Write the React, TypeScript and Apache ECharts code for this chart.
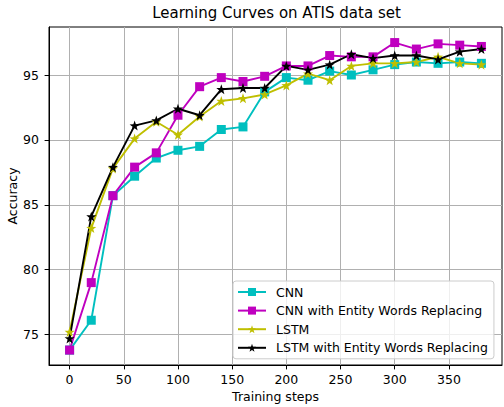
import React, { useEffect, useRef } from "react";
import * as echarts from "echarts";

const steps = [0, 20, 40, 60, 80, 100, 120, 140, 160, 180, 200, 220, 240, 260, 280, 300, 320, 340, 360, 380];
const cnn = [73.8, 76.1, 85.7, 87.2, 88.6, 89.2, 89.5, 90.8, 91.0, 93.7, 94.8, 94.6, 95.3, 95.0, 95.4, 95.8, 96.0, 95.9, 96.0, 95.9];
const cnnEntity = [73.8, 79.0, 85.7, 87.9, 89.0, 91.9, 94.1, 94.8, 94.5, 94.9, 95.7, 95.7, 96.5, 96.4, 96.4, 97.5, 97.0, 97.4, 97.3, 97.2];
const lstm = [75.2, 83.2, 87.8, 90.1, 91.4, 90.4, 91.8, 93.0, 93.2, 93.5, 94.2, 95.1, 94.6, 95.7, 95.9, 95.9, 96.0, 96.4, 95.9, 95.8];
const lstmEntity = [74.7, 84.1, 87.9, 91.1, 91.5, 92.4, 91.9, 93.9, 94.0, 94.0, 95.7, 95.4, 95.8, 96.6, 96.3, 96.5, 96.5, 96.2, 96.8, 97.0];
const xTicks = [0, 50, 100, 150, 200, 250, 300, 350];
const yTicks = [75, 80, 85, 90, 95];
const seriesNames = ["CNN", "CNN with Entity Words Replacing", "LSTM", "LSTM with Entity Words Replacing"];
const seriesColors = ["#00bfbf", "#bf00bf", "#bfbf00", "#000000"];

const STAR = "path://M0,-10 L2.35,-3.24 9.51,-3.09 3.8,1.24 5.88,8.09 0,4 -5.88,8.09 -3.8,1.24 -9.51,-3.09 -2.35,-3.24Z";

export default function App() {
  const ref = useRef<HTMLDivElement>(null);
  useEffect(() => {
    const chart = echarts.init(ref.current!, null, { renderer: "svg" });
    const font = "DejaVu Sans";
    const fs = 12.5;
    const allData = [cnn, cnnEntity, lstm, lstmEntity];
    const symbols = ["rect", "rect", STAR, STAR];
    const sizes = [9, 9, 10, 10];
    chart.setOption({
      animation: false,
      backgroundColor: "#ffffff",
      title: {
        text: "Learning Curves on ATIS data set",
        left: 276.5,
        textAlign: "center",
        top: 5,
        padding: 0,
        textStyle: { fontFamily: font, fontSize: 15, fontWeight: "normal", color: "#000" },
      },
      grid: {
        left: 49,
        right: 2,
        top: 27,
        bottom: 42,
        outerBoundsMode: "none",
        containLabel: false,
        show: true,
        borderColor: "#000",
        borderWidth: 1,
        backgroundColor: "transparent",
      },
      legend: {
        orient: "vertical",
        left: 233,
        top: 281,
        data: seriesNames,
        itemWidth: 28,
        itemHeight: 10,
        itemGap: 4.6,
        padding: [4, 6, 4, 4],
        backgroundColor: "rgba(255,255,255,0.8)",
        borderColor: "#cccccc",
        borderWidth: 1,
        borderRadius: 3,
        textStyle: { fontFamily: font, fontSize: fs, color: "#000", lineHeight: 14, padding: [0, 0, 0, 5] },
      },
      xAxis: {
        type: "value",
        min: -19,
        max: 399,
        name: "Training steps",
        nameLocation: "middle",
        nameGap: 25,
        nameMoveOverlap: false,
        nameTextStyle: { fontFamily: font, fontSize: fs, color: "#000" },
        axisLine: { show: true, onZero: false, lineStyle: { color: "#000", width: 1 } },
        axisTick: { show: true, length: 4.4, lineStyle: { color: "#000" }, customValues: xTicks },
        axisLabel: { fontFamily: font, fontSize: fs, color: "#000", margin: 8, customValues: xTicks },
        splitLine: { show: true, lineStyle: { color: "#b0b0b0", width: 1 } },
      },
      yAxis: {
        type: "value",
        min: 72.65,
        max: 98.7,
        name: "Accuracy",
        nameLocation: "middle",
        nameGap: 30,
        nameMoveOverlap: false,
        nameTextStyle: { fontFamily: font, fontSize: fs, color: "#000" },
        axisLine: { show: true, onZero: false, lineStyle: { color: "#000", width: 1 } },
        axisTick: { show: true, length: 4.4, lineStyle: { color: "#000" }, customValues: yTicks },
        axisLabel: { fontFamily: font, fontSize: fs, color: "#000", margin: 10, customValues: yTicks },
        splitLine: { show: true, lineStyle: { color: "#b0b0b0", width: 1 } },
      },
      series: seriesNames.map((name, i) => ({
        name,
        type: "line",
        data: steps.map((s, j) => [s, allData[i][j]]),
        symbol: symbols[i],
        symbolSize: sizes[i],
        showAllSymbol: true,
        color: seriesColors[i],
        lineStyle: { width: 1.9, color: seriesColors[i] },
        itemStyle: { color: seriesColors[i] },
      })),
    });
    return () => chart.dispose();
  }, []);
  return <div ref={ref} style={{ width: 504, height: 407, position: "absolute", left: 0, top: 0 }} />;
}
